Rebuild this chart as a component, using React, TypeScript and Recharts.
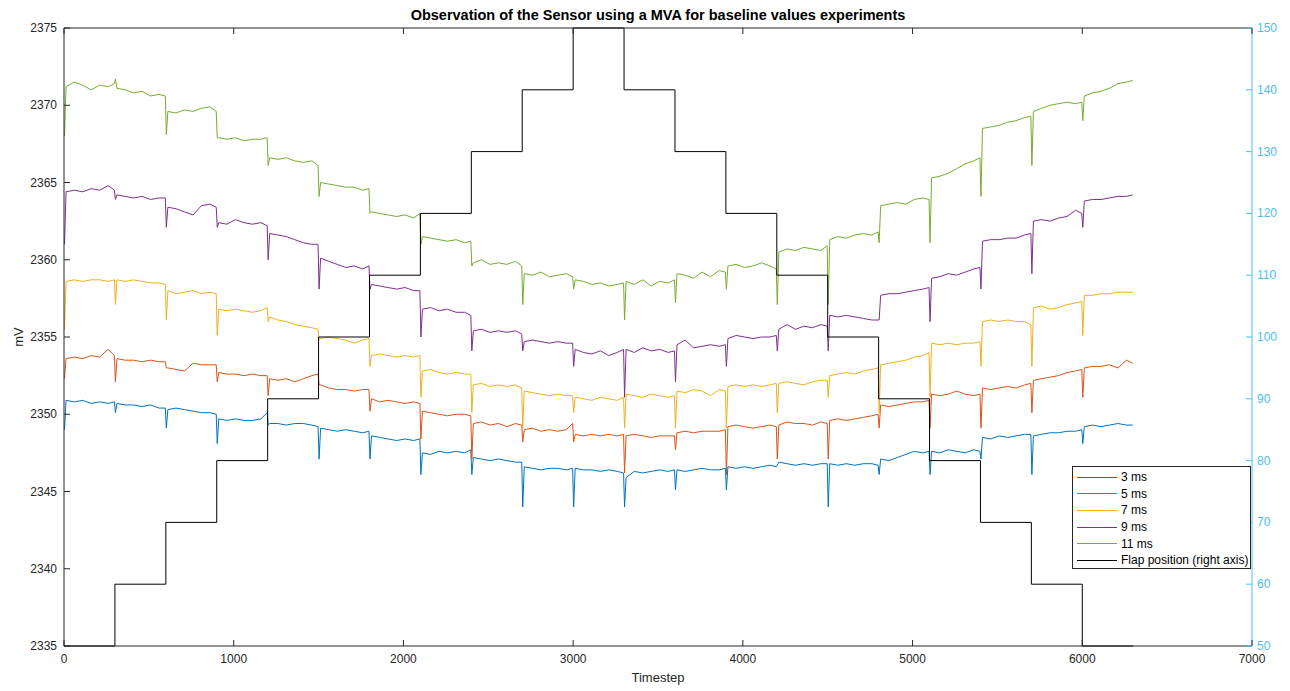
import { Line, LineChart, XAxis, YAxis } from "recharts";

// segment starts (flap changes every 300 steps) and the sample offsets inside each segment
const segmentStarts = [
  0, 300, 600, 900, 1200, 1500, 1800, 2100, 2400, 2700, 3000,
  3300, 3600, 3900, 4200, 4500, 4800, 5100, 5400, 5700, 6000,
];
const sampleOffsets = [3, 12, 60, 110, 160, 210, 260, 297];

const timesteps = segmentStarts.flatMap((start) => sampleOffsets.map((off) => start + off));

// one row of 8 values per segment
const ms3 = [
  2349.0, 2350.9, 2350.8, 2350.9, 2350.7, 2350.8, 2350.7, 2350.8,
  2350.1, 2350.7, 2350.6, 2350.6, 2350.5, 2350.6, 2350.4, 2350.4,
  2349.1, 2350.3, 2350.4, 2350.3, 2350.2, 2350.1, 2350.1, 2350.0,
  2348.1, 2349.7, 2349.6, 2349.7, 2349.6, 2349.6, 2349.7, 2350.1,
  2349.3, 2349.4, 2349.4, 2349.3, 2349.4, 2349.4, 2349.3, 2349.2,
  2347.1, 2349.1, 2349.0, 2348.9, 2349.0, 2348.9, 2348.8, 2348.9,
  2347.1, 2348.6, 2348.5, 2348.4, 2348.3, 2348.4, 2348.3, 2348.4,
  2346.1, 2347.5, 2347.4, 2347.6, 2347.5, 2347.6, 2347.5, 2347.7,
  2346.1, 2347.2, 2347.1, 2347.0, 2347.1, 2347.0, 2346.9, 2346.9,
  2344.0, 2346.6, 2346.5, 2346.4, 2346.5, 2346.5, 2346.4, 2346.5,
  2344.0, 2346.5, 2346.4, 2346.4, 2346.3, 2346.4, 2346.3, 2346.2,
  2344.0, 2345.9, 2346.3, 2346.2, 2346.3, 2346.4, 2346.3, 2346.4,
  2345.1, 2346.4, 2346.3, 2346.4, 2346.5, 2346.4, 2346.4, 2346.5,
  2345.1, 2346.6, 2346.5, 2346.6, 2346.5, 2346.6, 2346.7, 2346.6,
  2346.7, 2346.9, 2346.8, 2346.7, 2346.8, 2346.7, 2346.8, 2346.8,
  2344.0, 2346.8, 2346.7, 2346.8, 2346.7, 2346.8, 2346.8, 2346.7,
  2346.1, 2347.1, 2347.0, 2347.2, 2347.4, 2347.6, 2347.5, 2347.6,
  2346.1, 2347.6, 2347.5, 2347.7, 2347.6, 2347.5, 2347.7, 2347.6,
  2347.1, 2348.5, 2348.4, 2348.6, 2348.5, 2348.6, 2348.7, 2348.7,
  2346.1, 2348.6, 2348.7, 2348.8, 2348.8, 2348.9, 2348.9, 2349.0,
  2348.1, 2349.2, 2349.3, 2349.2, 2349.3, 2349.4, 2349.3, 2349.3,
];

const ms5 = [
  2352.3, 2353.6, 2353.7, 2353.6, 2353.8, 2353.7, 2354.2, 2353.8,
  2352.1, 2353.6, 2353.5, 2353.5, 2353.4, 2353.5, 2353.4, 2353.4,
  2353.0, 2353.0, 2352.9, 2352.8, 2353.3, 2353.2, 2353.2, 2353.2,
  2352.1, 2352.7, 2352.6, 2352.6, 2352.5, 2352.6, 2352.5, 2352.5,
  2351.2, 2352.3, 2352.2, 2352.3, 2352.1, 2352.3, 2352.5, 2352.6,
  2351.9, 2351.9, 2351.7, 2351.6, 2351.6, 2351.5, 2351.6, 2351.6,
  2350.2, 2351.0, 2350.8, 2350.9, 2350.8, 2350.7, 2350.8, 2350.7,
  2348.4, 2350.2, 2350.1, 2350.0, 2349.9, 2350.0, 2350.0, 2349.9,
  2347.1, 2349.4, 2349.5, 2349.3, 2349.4, 2349.2, 2349.4, 2349.3,
  2348.2, 2349.0, 2349.1, 2348.9, 2349.0, 2348.9, 2349.0, 2349.4,
  2348.2, 2348.7, 2348.6, 2348.7, 2348.6, 2348.7, 2348.6, 2348.7,
  2346.2, 2348.6, 2348.7, 2348.6, 2348.5, 2348.6, 2348.6, 2348.6,
  2347.7, 2348.8, 2348.9, 2348.8, 2348.9, 2348.9, 2348.9, 2349.0,
  2346.1, 2349.2, 2349.3, 2349.2, 2349.1, 2349.2, 2349.3, 2349.2,
  2347.1, 2349.3, 2349.5, 2349.4, 2349.4, 2349.3, 2349.5, 2349.4,
  2347.1, 2349.6, 2349.7, 2349.6, 2349.7, 2349.8, 2349.9, 2350.0,
  2349.1, 2350.6, 2350.5, 2350.6, 2350.7, 2350.8, 2350.8, 2350.9,
  2349.1, 2351.3, 2351.2, 2351.3, 2351.5, 2351.3, 2351.2, 2351.3,
  2349.1, 2351.7, 2351.6, 2351.7, 2351.8, 2351.7, 2351.9, 2352.0,
  2350.1, 2352.2, 2352.3, 2352.4, 2352.5, 2352.7, 2352.8, 2352.9,
  2351.1, 2353.0, 2353.1, 2353.1, 2353.2, 2353.0, 2353.5, 2353.3,
];

const ms7 = [
  2355.5, 2358.6, 2358.7, 2358.6, 2358.7, 2358.7, 2358.6, 2358.7,
  2357.1, 2358.7, 2358.6, 2358.7, 2358.6, 2358.5, 2358.5, 2358.4,
  2356.1, 2358.0, 2357.8, 2357.9, 2358.0, 2357.8, 2357.9, 2357.8,
  2355.1, 2356.8, 2356.7, 2356.8, 2356.7, 2356.6, 2356.7, 2356.9,
  2356.0, 2356.3, 2356.1, 2356.0, 2355.8, 2355.7, 2355.6, 2355.5,
  2354.8, 2354.9, 2355.0, 2354.9, 2354.8, 2354.6, 2354.8, 2354.9,
  2353.1, 2353.8, 2353.9, 2353.8, 2353.7, 2353.8, 2353.7, 2353.8,
  2351.1, 2352.8, 2352.9, 2352.7, 2352.6, 2352.7, 2352.6, 2352.6,
  2350.1, 2351.9, 2352.0, 2351.8, 2351.9, 2351.8, 2351.9, 2351.7,
  2349.1, 2351.5, 2351.4, 2351.3, 2351.2, 2351.3, 2351.2, 2351.2,
  2350.1, 2351.1, 2351.0, 2350.9, 2351.1, 2351.0, 2350.9, 2351.1,
  2349.1, 2351.3, 2351.2, 2351.1, 2351.3, 2351.2, 2351.1, 2351.2,
  2349.1, 2351.5, 2351.4, 2351.6, 2351.5, 2351.2, 2351.6, 2351.5,
  2349.1, 2351.8, 2351.9, 2351.8, 2351.9, 2351.8, 2351.9, 2352.0,
  2350.1, 2352.0, 2352.1, 2352.0, 2351.9, 2352.1, 2352.2, 2352.2,
  2351.1, 2352.5, 2352.6, 2352.7, 2352.6, 2352.8, 2352.9, 2353.0,
  2350.1, 2353.2, 2353.3, 2353.4, 2353.5, 2353.7, 2353.8, 2354.0,
  2351.1, 2354.6, 2354.5, 2354.6, 2354.5, 2354.6, 2354.6, 2354.7,
  2353.1, 2356.0, 2356.1, 2356.0, 2356.1, 2356.0, 2356.0, 2355.8,
  2353.1, 2356.9, 2357.0, 2356.8, 2356.9, 2357.1, 2357.2, 2357.3,
  2355.1, 2357.7, 2357.7, 2357.8, 2357.8, 2357.9, 2357.9, 2357.9,
];

const ms9 = [
  2361.0, 2364.4, 2364.5, 2364.4, 2364.6, 2364.5, 2364.8, 2364.5,
  2363.9, 2364.2, 2364.1, 2364.0, 2364.1, 2363.9, 2364.0, 2364.0,
  2362.1, 2363.4, 2363.3, 2363.1, 2362.9, 2363.5, 2363.6, 2363.4,
  2362.1, 2362.4, 2362.3, 2362.6, 2362.4, 2362.3, 2362.4, 2362.2,
  2360.0, 2361.7, 2361.6, 2361.5, 2361.3, 2361.1, 2361.0, 2361.0,
  2358.1, 2360.1, 2359.9, 2359.7, 2359.5, 2359.6, 2359.4, 2359.6,
  2358.1, 2358.4, 2358.3, 2358.2, 2358.1, 2358.2, 2358.0, 2358.0,
  2355.0, 2356.8, 2356.9, 2356.7, 2356.8, 2356.6, 2356.6, 2356.4,
  2354.1, 2355.4, 2355.5, 2355.3, 2355.4, 2355.3, 2355.4, 2355.2,
  2354.1, 2354.7, 2354.8, 2354.7, 2354.6, 2354.7, 2354.6, 2354.6,
  2353.1, 2354.2, 2354.0, 2353.9, 2354.1, 2353.8, 2354.0, 2354.2,
  2351.1, 2354.2, 2354.0, 2354.3, 2354.1, 2354.2, 2354.0, 2354.1,
  2352.1, 2354.5, 2354.8, 2354.3, 2354.4, 2354.5, 2354.4, 2354.5,
  2353.1, 2354.9, 2355.1, 2355.0, 2354.9, 2355.0, 2355.0, 2355.1,
  2354.1, 2355.5, 2355.8, 2355.5, 2355.7, 2355.6, 2355.8, 2355.7,
  2354.1, 2356.4, 2356.3, 2356.4, 2356.3, 2356.2, 2356.1, 2356.1,
  2356.1, 2357.7, 2357.8, 2357.8, 2357.9, 2358.0, 2358.1, 2358.2,
  2356.0, 2358.8, 2358.9, 2359.1, 2359.0, 2359.2, 2359.4, 2359.5,
  2358.1, 2361.2, 2361.3, 2361.3, 2361.4, 2361.4, 2361.6, 2361.7,
  2359.1, 2362.5, 2362.6, 2362.5, 2362.7, 2362.8, 2363.2, 2363.0,
  2362.1, 2363.8, 2363.9, 2363.9, 2364.0, 2364.1, 2364.1, 2364.2,
];

const ms11 = [
  2368.0, 2371.2, 2371.5, 2371.3, 2371.0, 2371.3, 2371.2, 2371.4,
  2371.7, 2371.1, 2371.0, 2370.8, 2370.9, 2370.6, 2370.7, 2370.6,
  2368.1, 2369.6, 2369.5, 2369.7, 2369.6, 2369.8, 2369.9, 2369.6,
  2367.9, 2367.9, 2367.8, 2367.9, 2367.7, 2367.8, 2367.8, 2367.9,
  2366.1, 2366.6, 2366.5, 2366.6, 2366.4, 2366.3, 2366.4, 2366.1,
  2364.1, 2365.0, 2364.9, 2364.8, 2364.7, 2364.7, 2364.5, 2364.6,
  2363.0, 2363.1, 2363.0, 2362.9, 2362.8, 2362.9, 2362.7, 2363.0,
  2361.0, 2361.5, 2361.4, 2361.3, 2361.2, 2361.3, 2361.1, 2361.2,
  2359.6, 2359.8, 2360.0, 2359.7, 2359.8, 2359.7, 2359.9, 2359.6,
  2357.1, 2359.1, 2359.0, 2359.2, 2358.9, 2359.0, 2359.1, 2358.9,
  2358.1, 2358.7, 2358.6, 2358.4, 2358.5, 2358.3, 2358.4, 2358.5,
  2356.1, 2358.6, 2358.4, 2358.7, 2358.3, 2358.6, 2358.5, 2358.7,
  2357.2, 2359.1, 2359.0, 2358.8, 2359.2, 2358.9, 2359.3, 2359.2,
  2358.1, 2359.6, 2359.7, 2359.5, 2359.6, 2359.8, 2359.6, 2359.4,
  2357.1, 2360.5, 2360.7, 2360.6, 2360.8, 2360.7, 2360.6, 2360.9,
  2357.1, 2361.3, 2361.5, 2361.4, 2361.6, 2361.7, 2361.6, 2361.8,
  2361.1, 2363.5, 2363.6, 2363.7, 2363.6, 2363.9, 2364.0, 2363.9,
  2361.1, 2365.3, 2365.4, 2365.6, 2365.9, 2366.2, 2366.4, 2366.6,
  2364.1, 2368.5, 2368.6, 2368.7, 2368.9, 2369.0, 2369.2, 2369.3,
  2366.1, 2369.6, 2369.8, 2370.0, 2370.1, 2370.2, 2370.1, 2370.2,
  2369.0, 2370.6, 2370.8, 2370.9, 2371.1, 2371.4, 2371.5, 2371.6,
];

const flapTimes = [
  0, 300, 600, 900, 1200, 1500, 1800, 2100, 2400, 2700, 3000,
  3300, 3600, 3900, 4200, 4500, 4800, 5100, 5400, 5700, 6000, 6300,
];
const flapPositions = [
  50, 60, 70, 80, 90, 100, 110, 120, 130, 140, 150,
  140, 130, 120, 110, 100, 90, 80, 70, 60, 50, 50,
];

const xTicks = [0, 1000, 2000, 3000, 4000, 5000, 6000, 7000];
const mvTicks = [2335, 2340, 2345, 2350, 2355, 2360, 2365, 2370, 2375];
const flapTicks = [50, 60, 70, 80, 90, 100, 110, 120, 130, 140, 150];

const seriesDefs = [
  { key: "ms3", label: "3 ms", color: "#0072BD", values: ms3 },
  { key: "ms5", label: "5 ms", color: "#D95319", values: ms5 },
  { key: "ms7", label: "7 ms", color: "#EDB120", values: ms7 },
  { key: "ms9", label: "9 ms", color: "#7E2F8E", values: ms9 },
  { key: "ms11", label: "11 ms", color: "#77AC30", values: ms11 },
];

const chartData = timesteps.map((t, i) => {
  const row: Record<string, number> = { t };
  seriesDefs.forEach((s) => {
    row[s.key] = s.values[i];
  });
  return row;
});

const flapData = flapTimes.map((t, i) => ({ t, flap: flapPositions[i] }));

const W = 1290;
const H = 691;
const PLOT_LEFT = 64;
const PLOT_RIGHT = 1252;
const PLOT_TOP = 28;
const PLOT_BOTTOM = 646;
const AXIS = "#262626";
const RIGHT_AXIS = "#4DBEEE";
const FONT = "'Liberation Sans', Arial, Helvetica, sans-serif";
const TICK_LEN = 6;

const LeftTick = (props: any) => {
  const { y, payload } = props;
  return (
    <g>
      <line x1={PLOT_LEFT} x2={PLOT_LEFT + TICK_LEN} y1={y} y2={y} stroke={AXIS} />
      <text x={PLOT_LEFT - 7} y={y + 4} textAnchor="end" fontSize={12} fill={AXIS} fontFamily={FONT}>
        {payload.value}
      </text>
    </g>
  );
};

const RightTick = (props: any) => {
  const { y, payload } = props;
  return (
    <g>
      <line x1={PLOT_RIGHT} x2={PLOT_RIGHT - TICK_LEN} y1={y} y2={y} stroke={RIGHT_AXIS} />
      <text x={PLOT_RIGHT + 5} y={y + 4} textAnchor="start" fontSize={12} fill={RIGHT_AXIS} fontFamily={FONT}>
        {payload.value}
      </text>
    </g>
  );
};

const BottomTick = (props: any) => {
  const { x, payload } = props;
  return (
    <g>
      <line x1={x} x2={x} y1={PLOT_BOTTOM} y2={PLOT_BOTTOM - TICK_LEN} stroke={AXIS} />
      <text x={x} y={PLOT_BOTTOM + 17} textAnchor="middle" fontSize={12} fill={AXIS} fontFamily={FONT}>
        {payload.value}
      </text>
    </g>
  );
};

const TopTick = (props: any) => {
  const { x } = props;
  return <line x1={x} x2={x} y1={PLOT_TOP} y2={PLOT_TOP + TICK_LEN} stroke={AXIS} />;
};

const legendItems = [
  ...seriesDefs.map((s) => ({ label: s.label, color: s.color })),
  { label: "Flap position (right axis)", color: "#000000" },
];

export default function App() {
  return (
    <div style={{ position: "absolute", left: 0, top: 0, width: W, height: H, background: "#fff", fontFamily: FONT }}>
      <LineChart
        width={W}
        height={H}
        data={chartData}
        margin={{ top: PLOT_TOP - 1, right: W - PLOT_RIGHT - 30, bottom: H - PLOT_BOTTOM - 35, left: PLOT_LEFT - 56 }}
      >
        <XAxis
          xAxisId="bottom"
          dataKey="t"
          type="number"
          domain={[0, 7000]}
          ticks={xTicks}
          height={35}
          stroke={AXIS}
          tickLine={false}
          tick={BottomTick}
          interval={0}
        />
        <XAxis
          xAxisId="top"
          orientation="top"
          dataKey="t"
          type="number"
          domain={[0, 7000]}
          ticks={xTicks}
          height={1}
          stroke={AXIS}
          tickLine={false}
          tick={TopTick}
          interval={0}
        />
        <YAxis
          yAxisId="left"
          type="number"
          domain={[2335, 2375]}
          ticks={mvTicks}
          width={56}
          stroke={AXIS}
          tickLine={false}
          tick={LeftTick}
          interval={0}
        />
        <YAxis
          yAxisId="right"
          orientation="right"
          type="number"
          domain={[50, 150]}
          ticks={flapTicks}
          width={30}
          stroke={RIGHT_AXIS}
          tickLine={false}
          tick={RightTick}
          interval={0}
        />
        {seriesDefs.map((s) => (
          <Line
            key={s.key}
            xAxisId="bottom"
            yAxisId="left"
            type="linear"
            dataKey={s.key}
            stroke={s.color}
            strokeWidth={1}
            dot={false}
            isAnimationActive={false}
          />
        ))}
        <Line
          xAxisId="bottom"
          yAxisId="right"
          data={flapData}
          type="stepAfter"
          dataKey="flap"
          stroke="#000000"
          strokeWidth={1}
          dot={false}
          isAnimationActive={false}
        />
      </LineChart>

      <div
        style={{
          position: "absolute",
          left: PLOT_LEFT,
          width: PLOT_RIGHT - PLOT_LEFT,
          top: 7,
          textAlign: "center",
          fontWeight: "bold",
          fontSize: 14.5,
          color: "#000",
        }}
      >
        Observation of the Sensor using a MVA for baseline values experiments
      </div>
      <div
        style={{
          position: "absolute",
          left: PLOT_LEFT,
          width: PLOT_RIGHT - PLOT_LEFT,
          top: 670,
          textAlign: "center",
          fontSize: 13,
          color: AXIS,
        }}
      >
        Timestep
      </div>
      <div
        style={{
          position: "absolute",
          left: 18,
          top: (PLOT_TOP + PLOT_BOTTOM) / 2,
          transform: "translate(-50%, -50%) rotate(-90deg)",
          fontSize: 13,
          color: AXIS,
        }}
      >
        mV
      </div>

      <div
        style={{
          position: "absolute",
          left: 1072,
          top: 466,
          width: 179,
          height: 103,
          border: `1px solid ${AXIS}`,
          background: "#fff",
          boxSizing: "border-box",
          paddingTop: 2,
        }}
      >
        {legendItems.map((item) => (
          <div key={item.label} style={{ display: "flex", alignItems: "center", height: 16.6, fontSize: 12, color: "#000" }}>
            <span style={{ display: "inline-block", width: 40, height: 0, borderTop: `1px solid ${item.color}`, marginLeft: 4, marginRight: 4 }} />
            <span>{item.label}</span>
          </div>
        ))}
      </div>
    </div>
  );
}
